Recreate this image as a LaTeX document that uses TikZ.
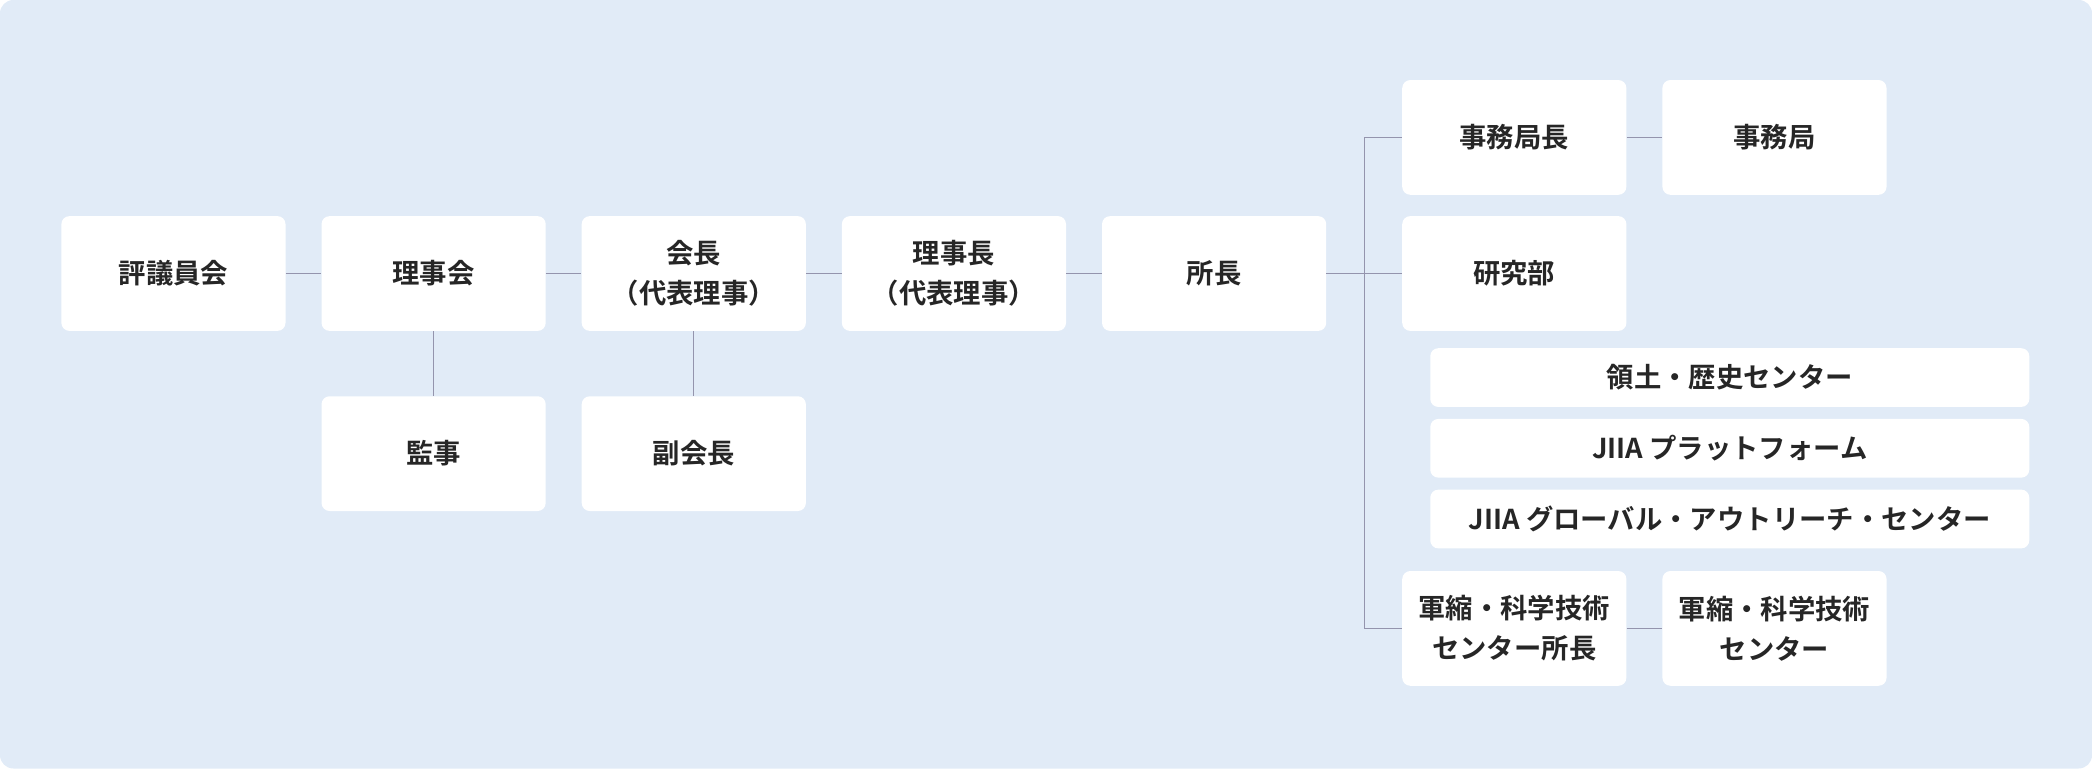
\documentclass[tikz,border=0pt]{standalone}
\usepackage{fontspec}
\setmainfont{Noto Sans CJK JP}[BoldFont={Noto Sans CJK JP Bold}]
\begin{document}
\begin{tikzpicture}[x=1pt,y=-1pt,
  box/.style={fill=white,rounded corners=6pt,minimum width=168pt,minimum height=86pt,inner sep=0pt,align=center,font=\fontsize{20.5}{30}\selectfont\bfseries,text=black!85},
  wide/.style={box,minimum width=449pt,minimum height=44pt},
  ln/.style={draw=black!30!blue!20!gray!70,line width=0.8pt}]
\useasboundingbox (0,0) rectangle (1568,576);
\fill[fill={rgb,255:red,225;green,235;blue,247},rounded corners=10pt] (0,0) rectangle (1568,576);
\node[box] (a) at (130,205) {評議員会};
\node[box] (b) at (325,205) {理事会};
\node[box] (c) at (520,205) {会長\\（代表理事）};
\node[box] (d) at (715,205) {理事長\\（代表理事）};
\node[box] (e) at (910,205) {所長};
\node[box] (f) at (325,340) {監事};
\node[box] (g) at (520,340) {副会長};
\node[box] (h) at (1135,103) {事務局長};
\node[box] (i) at (1330,103) {事務局};
\node[box] (j) at (1135,205) {研究部};
\node[wide] (k) at (1296.5,283) {領土・歴史センター};
\node[wide] (l) at (1296.5,336) {JIIA プラットフォーム};
\node[wide] (m) at (1296.5,389) {JIIA グローバル・アウトリーチ・センター};
\node[box] (n) at (1135,471) {軍縮・科学技術\\センター所長};
\node[box] (o) at (1330,471) {軍縮・科学技術\\センター};
\coordinate (t) at (1023,103);
\coordinate (u) at (1023,471);
\draw[ln] (a)--(b); \draw[ln] (b)--(c); \draw[ln] (c)--(d); \draw[ln] (d)--(e);
\draw[ln] (e)--(j); \draw[ln] (b)--(f); \draw[ln] (c)--(g);
\draw[ln] (h)--(t)--(u)--(n); \draw[ln] (h)--(i); \draw[ln] (n)--(o);
\end{tikzpicture}
\end{document}
